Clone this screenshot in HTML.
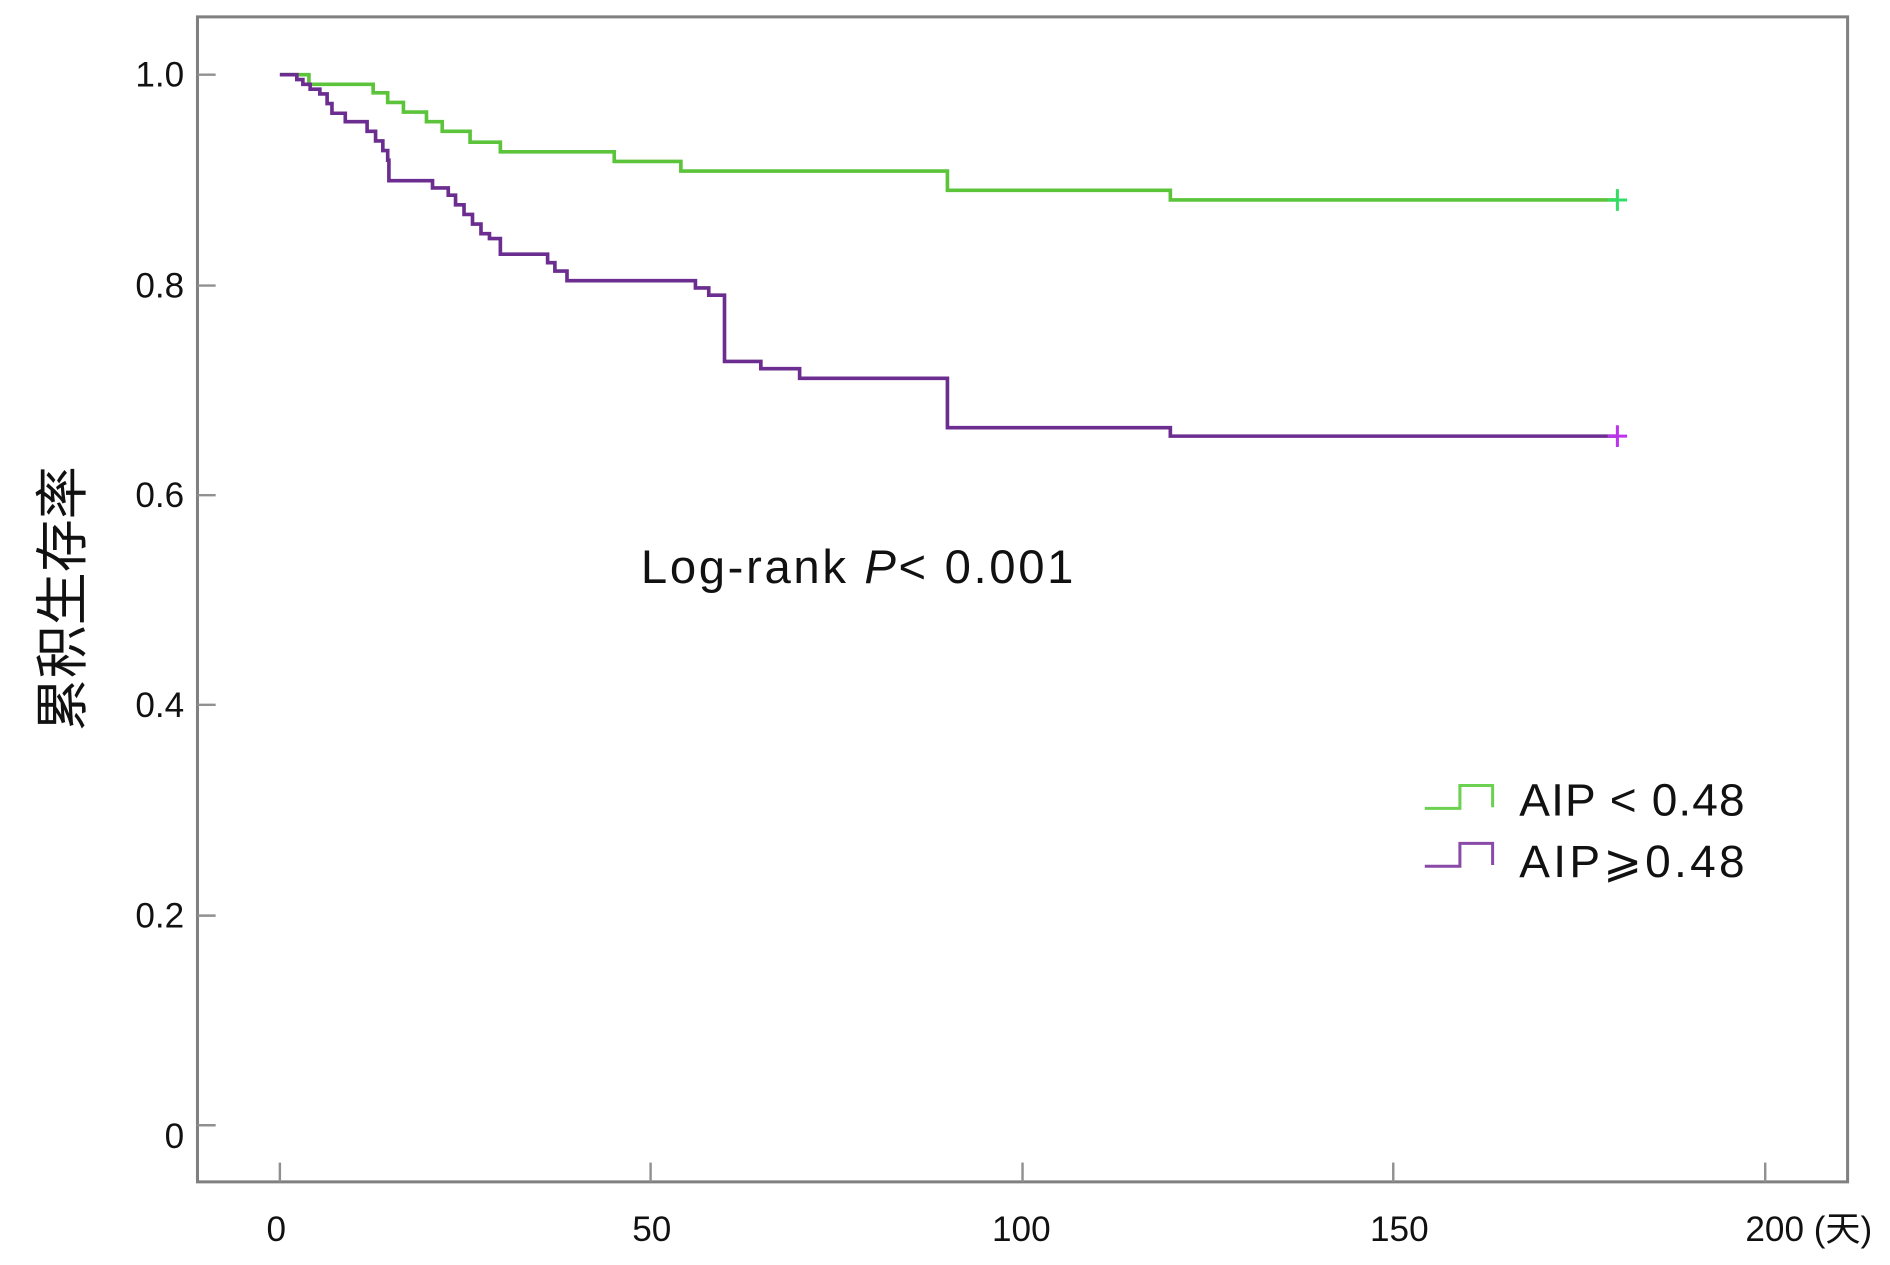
<!DOCTYPE html>
<html><head><meta charset="utf-8"><style>
html,body{margin:0;padding:0;background:#fff;}
svg{display:block;}
text{font-family:"Liberation Sans","Noto Sans CJK SC",sans-serif;fill:#111;}
</style></head><body>
<svg width="1890" height="1265" viewBox="0 0 1560 1050" preserveAspectRatio="none" xmlns="http://www.w3.org/2000/svg">
<rect x="163" y="14" width="1362" height="967" fill="none" stroke="#808080" stroke-width="2.5"/>
<g stroke="#909090" stroke-width="2">
<line x1="163" y1="62" x2="178" y2="62"/><line x1="163" y1="237" x2="178" y2="237"/>
<line x1="163" y1="411" x2="178" y2="411"/><line x1="163" y1="585" x2="178" y2="585"/>
<line x1="163" y1="760" x2="178" y2="760"/><line x1="163" y1="934" x2="178" y2="934"/>
<line x1="231" y1="981" x2="231" y2="965"/><line x1="537" y1="981" x2="537" y2="965"/>
<line x1="844" y1="981" x2="844" y2="965"/><line x1="1150" y1="981" x2="1150" y2="965"/>
<line x1="1457" y1="981" x2="1457" y2="965"/>
</g>
<g font-size="29" text-anchor="end">
<text x="152" y="72">1.0</text><text x="152" y="247">0.8</text><text x="152" y="421">0.6</text>
<text x="152" y="595">0.4</text><text x="152" y="770">0.2</text><text x="152" y="953">0</text>
</g>
<g font-size="29" text-anchor="middle">
<text x="228" y="1030">0</text><text x="538" y="1030">50</text><text x="843" y="1030">100</text><text x="1155" y="1030">150</text>
<text x="1493" y="1030">200 (天)</text>
</g>
<text transform="translate(67,497) rotate(-90)" font-size="44" text-anchor="middle">累积生存率</text>
<text x="529" y="484" font-size="39" textLength="357" lengthAdjust="spacing">Log-rank <tspan font-style="italic">P</tspan>&lt; 0.001</text>
<path d="M231,62 H255 V70 H308 V77 H320 V85 H333 V93 H352 V101 H365 V109 H388 V118 H413 V126 H507 V134 H562 V142 H782 V158 H966 V166 H1335" fill="none" stroke="#5cc43a" stroke-width="3"/>
<path d="M231,62 H245 V66 H250 V70 H256 V74 H264 V78 H270 V86 H274 V94 H285 V101 H303 V109 H310 V117 H316 V125 H320 V133 H321 V150 H357 V156 H370 V162 H376 V170 H383 V178 H390 V186 H397 V194 H404 V198 H413 V211 H452 V218 H458 V225 H468 V233 H574 V239 H585 V245 H598 V300 H628 V306 H660 V314 H782 V355 H966 V362 H1335" fill="none" stroke="#6b2d8f" stroke-width="3"/>
<g stroke-width="2.5">
<line x1="1327" y1="166" x2="1343" y2="166" stroke="#33dd66"/><line x1="1335" y1="157" x2="1335" y2="175" stroke="#33dd66"/>
<line x1="1327" y1="362" x2="1343" y2="362" stroke="#bb33ee"/><line x1="1335" y1="353" x2="1335" y2="371" stroke="#bb33ee"/>
</g>
<path d="M1176,671 H1205 V652 H1232 V670" fill="none" stroke="#6cd050" stroke-width="2.5"/>
<path d="M1176,719 H1205 V700 H1232 V718" fill="none" stroke="#8a4aa8" stroke-width="2.5"/>
<text x="1254" y="677" font-size="38" textLength="186" lengthAdjust="spacing">AIP &lt; 0.48</text>
<text x="1254" y="728" font-size="38" textLength="186" lengthAdjust="spacing">AIP⩾0.48</text>
</svg>
</body></html>
